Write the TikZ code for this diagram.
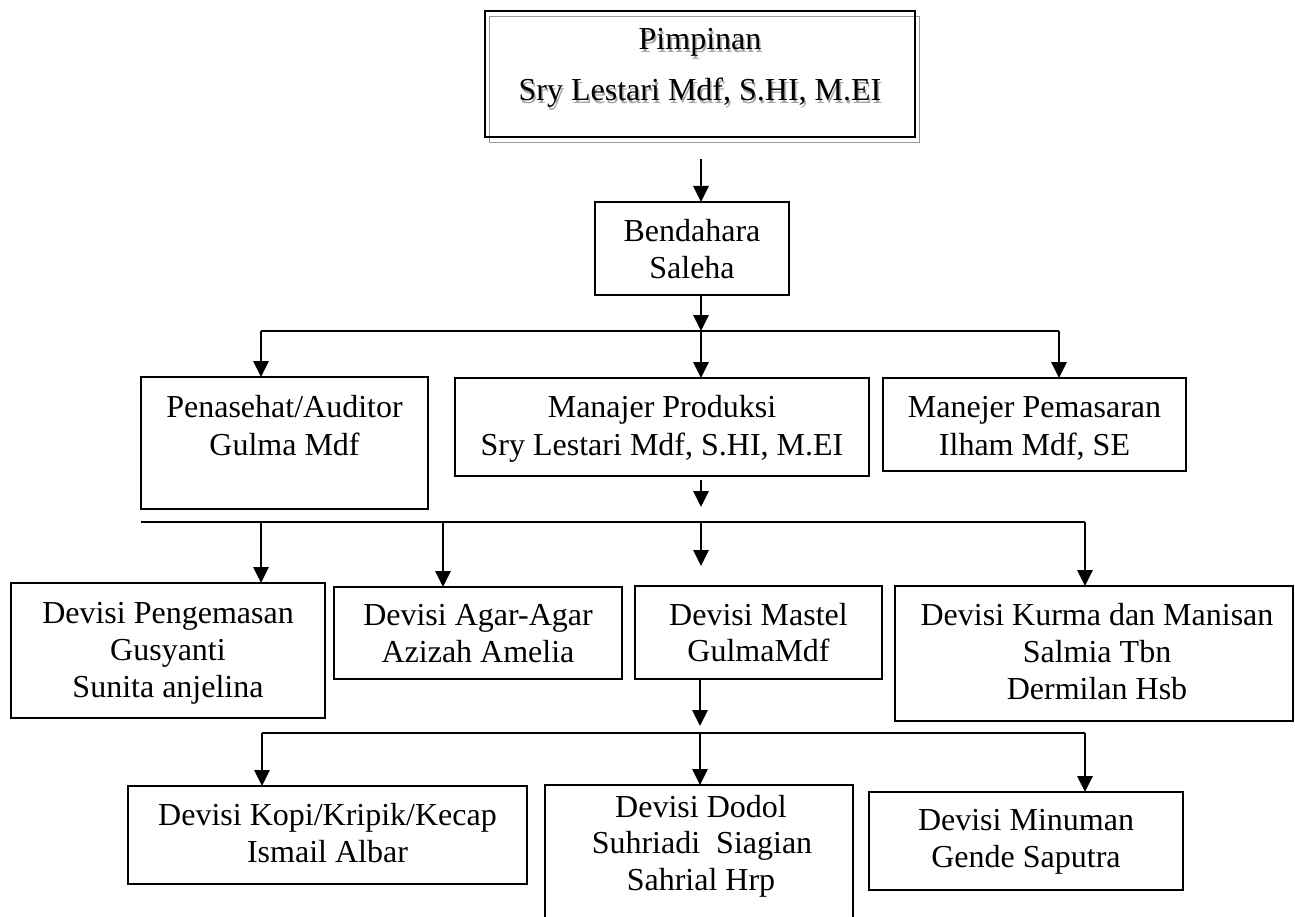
\documentclass[tikz,border=0pt]{standalone}
\usepackage{fontspec}
\setmainfont{Liberation Serif}
\usetikzlibrary{arrows.meta}
\newcommand\shadowed[1]{\makebox[0pt][l]{\raisebox{-3pt}{\hspace*{1.5pt}\textcolor{black!35}{#1}}}#1}
\begin{document}
\begin{tikzpicture}[x=1pt,y=-1pt,
  box/.style={draw, line width=1.8pt, inner sep=0pt, outer sep=0pt, anchor=center},
  txt/.style={anchor=base, inner sep=0pt, font=\fontsize{32}{38}\selectfont},
  conn/.style={line width=2.8pt},
  arr/.style={line width=2.8pt, -{Triangle[length=16pt,width=15pt]}},
]
\useasboundingbox (0,0) rectangle (1295,917);
\clip (0,0) rectangle (1295,917);

% --- Top box (Pimpinan) with gray shadow frame
\node[draw=black!40, line width=1pt, minimum width=430pt, minimum height=126pt, inner sep=0pt, outer sep=0pt] (topsh) at (704,80) {};
\node[box, line width=1.5pt, minimum width=430pt, minimum height=126pt] (top) at (700,74) {};
\node[txt] (t1) at (700,50) {\shadowed{Pimpinan}};
\node[txt] (t2) at (700,101) {\shadowed{Sry Lestari Mdf, S.HI, M.EI}};

% --- Bendahara
\node[box, minimum width=194pt, minimum height=93pt] (bend) at (692,248.5) {};
\node[txt] (b1) at (692,242) {Bendahara};
\node[txt] (b2) at (692,279) {Saleha};

% --- Level 2
\node[box, minimum width=287pt, minimum height=132pt] (pen) at (284.5,443) {};
\node[txt] (p1) at (284.5,417) {Penasehat/Auditor};
\node[txt] (p2) at (284.5,455) {Gulma Mdf};

\node[box, minimum width=414pt, minimum height=98pt] (prod) at (662,427) {};
\node[txt] (pr1) at (662,417) {Manajer Produksi};
\node[txt] (pr2) at (662,455) {Sry Lestari Mdf, S.HI, M.EI};

\node[box, minimum width=303pt, minimum height=93pt] (pem) at (1034.5,424.5) {};
\node[txt] (pm1) at (1034.5,417) {Manejer Pemasaran};
\node[txt] (pm2) at (1034.5,455) {Ilham Mdf, SE};

% --- Level 3
\node[box, minimum width=314pt, minimum height=135pt] (peng) at (168,650.5) {};
\node[txt] (pg1) at (168,623) {Devisi Pengemasan};
\node[txt] (pg2) at (168,660) {Gusyanti};
\node[txt] (pg3) at (168,697) {Sunita anjelina};

\node[box, minimum width=288pt, minimum height=92pt] (agar) at (478,633) {};
\node[txt] (ag1) at (478,625) {Devisi Agar-Agar};
\node[txt] (ag2) at (478,662) {Azizah Amelia};

\node[box, minimum width=247pt, minimum height=93pt] (mastel) at (758.5,632.5) {};
\node[txt] (ms1) at (758.5,625) {Devisi Mastel};
\node[txt] (ms2) at (758.5,661) {GulmaMdf};

\node[box, minimum width=398pt, minimum height=135pt] (kurma) at (1094,653.5) {};
\node[txt] (ku1) at (1097,625) {Devisi Kurma dan Manisan};
\node[txt] (ku2) at (1097,662) {Salmia Tbn};
\node[txt] (ku3) at (1097,699) {Dermilan Hsb};

% --- Level 4
\node[box, minimum width=399pt, minimum height=98pt] (kopi) at (327.5,835) {};
\node[txt] (ko1) at (327.5,825) {Devisi Kopi/Kripik/Kecap};
\node[txt] (ko2) at (327.5,862) {Ismail Albar};

\node[box, minimum width=308pt, minimum height=160pt] (dodol) at (699,865) {};
\node[txt] (do1) at (701,817) {Devisi Dodol};
\node[txt] (do2) at (702,853) {Suhriadi\ \ Siagian};
\node[txt] (do3) at (701,890) {Sahrial Hrp};

\node[box, minimum width=314pt, minimum height=98pt] (minum) at (1026,841) {};
\node[txt] (mi1) at (1026,830) {Devisi Minuman};
\node[txt] (mi2) at (1026,867) {Gende Saputra};

% --- Connectors
\coordinate (a0) at (701,159);
\draw[arr] (a0) -- (a0 |- bend.north);

\coordinate (l1a) at (261,331);
\coordinate (l1m) at (701,331);
\coordinate (l1b) at (1059,331);
\draw[arr] (bend.south -| l1m) -- (l1m);
\draw[conn] (l1a) -- (l1b);
\draw[arr] (l1a) -- (l1a |- pen.north);
\draw[arr] (l1m) -- (l1m |- prod.north);
\draw[arr] (l1b) -- (l1b |- pem.north);

\coordinate (a2s) at (701,480);
\coordinate (a2e) at (701,507);
\draw[arr] (a2s) -- (a2e);

\coordinate (l2a) at (141,522);
\coordinate (l2b) at (1085,522);
\coordinate (l2p) at (261,522);
\coordinate (l2g) at (443,522);
\coordinate (l2m) at (701,522);
\coordinate (l2me) at (701,566);
\draw[conn] (l2a) -- (l2b);
\draw[arr] (l2p) -- (l2p |- peng.north);
\draw[arr] (l2g) -- (l2g |- agar.north);
\draw[arr] (l2m) -- (l2me);
\draw[arr] (l2b) -- (l2b |- kurma.north);

\coordinate (l3a) at (262,733);
\coordinate (l3m) at (700,733);
\coordinate (l3b) at (1085,733);
\coordinate (a3e) at (700,726);
\draw[arr] (mastel.south -| a3e) -- (a3e);
\draw[conn] (l3a) -- (l3b);
\draw[arr] (l3a) -- (l3a |- kopi.north);
\draw[arr] (l3m) -- (l3m |- dodol.north);
\draw[arr] (l3b) -- (l3b |- minum.north);
\end{tikzpicture}
\end{document}
